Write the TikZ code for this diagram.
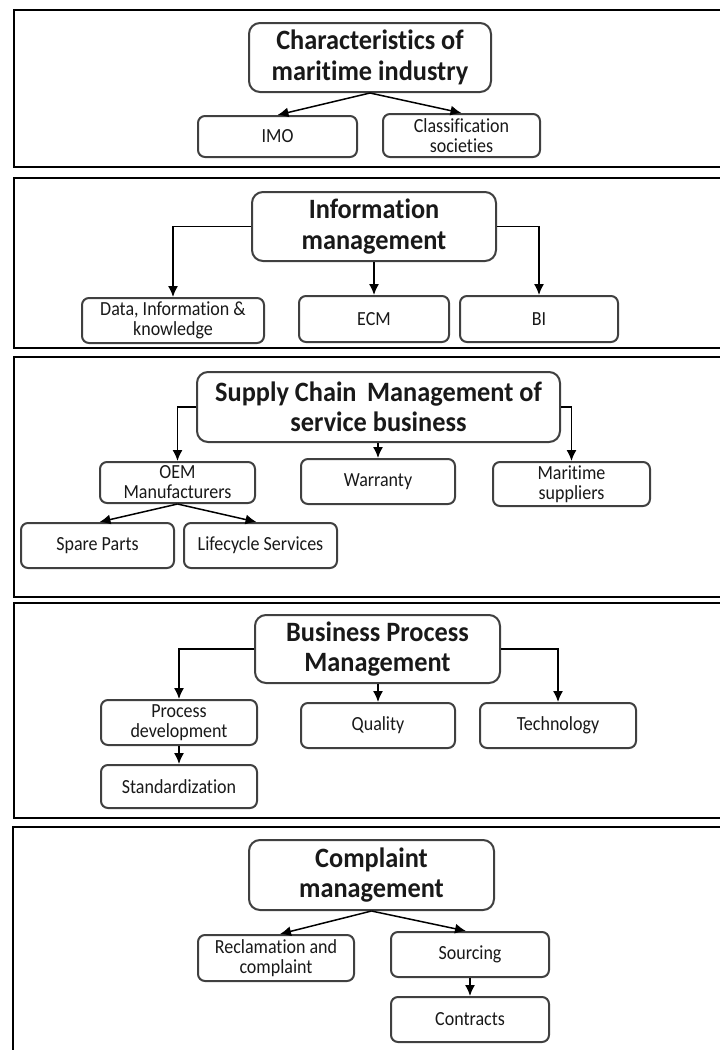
\documentclass[tikz,border=0pt]{standalone}
\usepackage{fontspec}
\setmainfont{Carlito}[FakeStretch=0.9, Ligatures=CommonOff]
\newfontfamily\headfont{Carlito}[FakeStretch=0.94, Ligatures=CommonOff]
\usetikzlibrary{arrows.meta}
\definecolor{boxgray}{HTML}{404040}
\tikzset{
  panel/.style={draw=black, line width=1.6pt},
  box/.style={draw=boxgray, line width=2pt, rounded corners=7pt, align=center,
    inner sep=0pt, text=black!90, font=\fontsize{20}{20}\selectfont},
  head/.style={box, rounded corners=11pt, font=\headfont\bfseries\fontsize{28}{30.5}\selectfont},
  arr/.style={draw=black, line width=1.5pt, -{Latex[length=11pt,width=10pt]}}
}
\newcommand{\bx}[5]{% name, cx, cy, w, h
  \node[box, minimum width=#4, minimum height=#5] (#1) at (#2,#3)}
\begin{document}
\begin{tikzpicture}[x=1pt, y=-1pt]
\useasboundingbox (0,0) rectangle (720,1050);
\clip (0,0) rectangle (720,1050);
\fill[white] (0,0) rectangle (720,1050);

% ---------- panel 1: characteristics of the maritime industry
\draw[panel] (14,10) rectangle (740,167);
\node[head, minimum width=242pt, minimum height=69pt] (t1) at (370,57.5)
  {Characteristics of\\maritime industry};
\bx{imo}{277.5}{136.5}{159pt}{41pt} {IMO};
\bx{cls}{461.5}{135.5}{157pt}{43pt} {Classification\\societies};
\draw[arr] (t1.south) -- (imo.north);
\draw[arr] (t1.south) -- (cls.north);

% ---------- panel 2: information management
\draw[panel] (14,178) rectangle (740,348);
\node[head, minimum width=244pt, minimum height=69pt] (t2) at (374,226.5)
  {Information\\management};
\bx{dik}{173}{320.5}{182pt}{45pt} {Data, Information \&\\knowledge};
\bx{ecm}{374}{319}{150pt}{46pt} {ECM};
\bx{bi}{539}{319}{158pt}{46pt} {BI};
\draw[arr] (t2.west) -| (dik.north);
\draw[arr] (ecm.north |- t2.south) -- (ecm.north);
\draw[arr] (t2.east) -| (bi.north);

% ---------- panel 3: supply chain management
\draw[panel] (14,357) rectangle (740,597);
\node[head, minimum width=363pt, minimum height=70pt] (t3) at (378.5,407)
  {Supply Chain\, Management of\\service business};
\bx{oem}{177.5}{482.5}{155pt}{41pt} {OEM\\Manufacturers};
\bx{war}{378}{481.5}{154pt}{45pt} {Warranty};
\bx{mar}{571.5}{484}{157pt}{44pt} {Maritime\\suppliers};
\bx{spa}{97.5}{545.5}{153pt}{45pt} {Spare Parts};
\bx{lif}{260.5}{545.5}{153pt}{45pt} {Lifecycle Services};
\draw[arr] (t3.west) -| (oem.north);
\draw[arr] (war.north |- t3.south) -- (war.north);
\draw[arr] (t3.east) -| (mar.north);
\draw[arr] (oem.south) -- ([xshift=2pt]spa.north);
\draw[arr] (oem.south) -- ([xshift=-4pt]lif.north);

% ---------- panel 4: business process management
\draw[panel] (14,603) rectangle (740,818);
\node[head, minimum width=245pt, minimum height=68pt] (t4) at (377.5,649)
  {Business Process\\Management};
\bx{pro}{179}{722.5}{156pt}{45pt} {Process\\development};
\bx{qua}{378}{725.5}{154pt}{45pt} {Quality};
\bx{tec}{558}{725.5}{156pt}{45pt} {Technology};
\bx{sta}{179}{786.5}{156pt}{43pt} {Standardization};
\draw[arr] (t4.west) -| (pro.north);
\draw[arr] (qua.north |- t4.south) -- (qua.north);
\draw[arr] (t4.east) -| (tec.north);
\draw[arr] (pro.south) -- (sta.north);

% ---------- panel 5: complaint management
\draw[panel] (13,827) rectangle (740,1070);
\node[head, minimum width=245pt, minimum height=70pt] (t5) at (371.5,875)
  {Complaint\\management};
\bx{rec}{276}{958}{156pt}{46pt} {Reclamation and\\complaint};
\bx{sou}{470}{954.5}{158pt}{45pt} {Sourcing};
\bx{con}{470}{1019.5}{158pt}{45pt} {Contracts};
\draw[arr] (t5.south) -- ([xshift=4pt]rec.north);
\draw[arr] (t5.south) -- ([xshift=-4pt]sou.north);
\draw[arr] (sou.south) -- (con.north);
\end{tikzpicture}
\end{document}
